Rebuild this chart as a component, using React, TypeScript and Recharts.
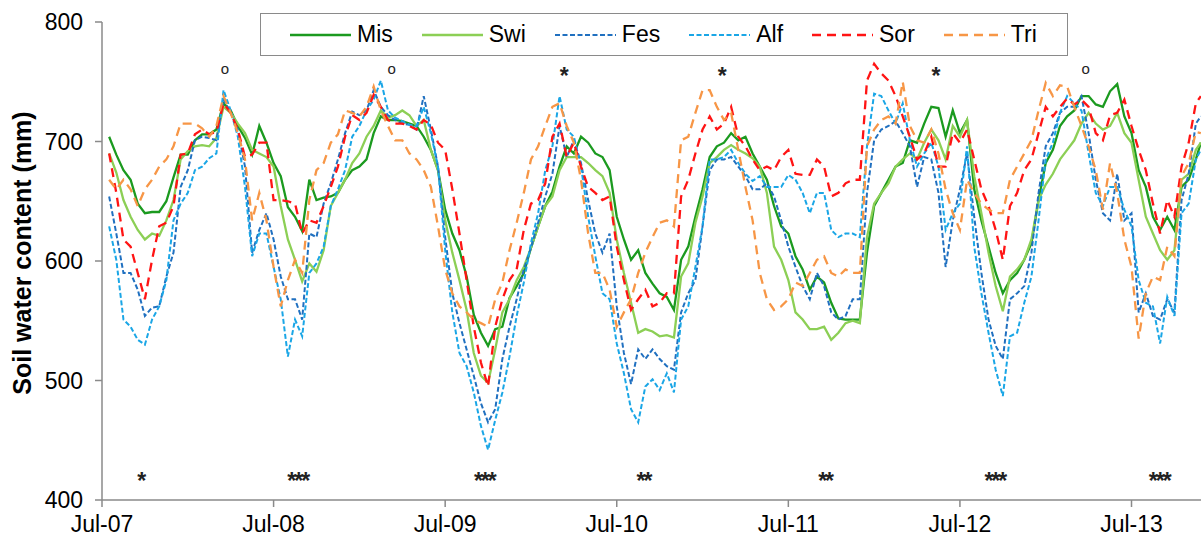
import { ComposedChart, Line, Scatter, XAxis, YAxis, Legend, Label } from 'recharts';

const FONT = '"Liberation Sans", Arial, sans-serif';

// half-month steps since 1 Jul 2007, last reading early Dec 2013
const months = Array.from({ length: 153 }, (_, i) => (i + 1) / 2).concat([76.85]);
const yearTicks = [0, 12, 24, 36, 48, 60, 72];
const yearLabels = ['Jul-07', 'Jul-08', 'Jul-09', 'Jul-10', 'Jul-11', 'Jul-12', 'Jul-13'];

const mis = [
  704, 689, 676, 668, 648, 640, 641, 641, 650, 670, 689, 689, 701, 706, 706, 710, 732, 726, 713, 703, 689, 713, 699, 682,
  671, 645, 637, 625, 668, 651, 653, 654, 657, 668, 676, 679, 685, 707, 721, 718, 718, 717, 715, 713, 704, 693, 676, 643,
  623, 609, 587, 555, 540, 529, 543, 545, 569, 579, 590, 611, 629, 646, 658, 679, 696, 690, 704, 699, 690, 687, 676, 637,
  618, 601, 609, 590, 581, 573, 570, 559, 601, 612, 637, 660, 687, 696, 699, 707, 701, 704, 690, 679, 668, 646, 629, 623,
  604, 593, 576, 587, 582, 565, 552, 551, 551, 551, 607, 646, 657, 668, 679, 682, 701, 699, 715, 729, 728, 704, 726, 707,
  718, 660, 634, 612, 590, 573, 584, 590, 601, 615, 651, 682, 693, 713, 721, 726, 738, 738, 731, 729, 742, 748, 721, 707,
  676, 662, 637, 626, 637, 626, 662, 668, 685, 699,
];
const swi = [
  690, 674, 651, 637, 626, 618, 623, 621, 634, 651, 685, 692, 696, 697, 696, 703, 729, 724, 715, 707, 693, 690, 687, 679,
  646, 618, 601, 583, 598, 591, 609, 646, 657, 668, 682, 690, 704, 713, 726, 720, 722, 726, 722, 713, 718, 693, 676, 634,
  607, 584, 559, 523, 504, 498, 526, 557, 568, 584, 595, 611, 629, 646, 654, 676, 687, 687, 687, 682, 676, 671, 657, 618,
  590, 565, 540, 543, 541, 537, 538, 536, 587, 598, 632, 654, 682, 687, 693, 697, 693, 690, 686, 679, 657, 612, 601, 584,
  557, 551, 543, 543, 545, 534, 540, 548, 550, 548, 620, 648, 657, 665, 679, 685, 690, 685, 699, 710, 701, 685, 713, 704,
  718, 671, 640, 607, 579, 558, 587, 593, 601, 618, 651, 664, 673, 685, 693, 701, 715, 724, 715, 710, 713, 724, 707, 699,
  668, 637, 623, 609, 601, 609, 668, 673, 693, 699,
];
const fes = [
  654, 623, 590, 590, 576, 554, 561, 562, 587, 607, 662, 676, 701, 704, 703, 701, 735, 724, 710, 679, 607, 626, 640, 618,
  587, 568, 568, 551, 623, 620, 648, 665, 685, 707, 725, 722, 726, 743, 729, 722, 718, 715, 714, 710, 738, 710, 679, 620,
  573, 548, 526, 504, 481, 465, 476, 518, 545, 568, 593, 611, 632, 654, 673, 713, 687, 701, 682, 651, 623, 607, 623, 562,
  523, 497, 526, 518, 526, 518, 512, 509, 557, 573, 584, 629, 676, 685, 685, 687, 679, 671, 660, 660, 665, 654, 634, 612,
  595, 579, 568, 590, 579, 557, 551, 554, 568, 568, 657, 701, 710, 713, 717, 707, 696, 662, 687, 685, 657, 595, 634, 660,
  690, 637, 590, 551, 529, 518, 568, 573, 579, 607, 657, 696, 707, 724, 729, 729, 738, 707, 668, 640, 634, 673, 634, 640,
  557, 573, 554, 551, 568, 557, 651, 673, 715, 721,
];
const alf = [
  629, 601, 551, 545, 534, 530, 551, 562, 584, 634, 648, 657, 676, 679, 686, 690, 743, 726, 704, 662, 604, 623, 623, 595,
  568, 520, 551, 537, 590, 598, 612, 646, 660, 676, 704, 713, 726, 735, 751, 726, 720, 717, 714, 713, 729, 707, 679, 609,
  557, 523, 512, 490, 462, 442, 467, 490, 520, 554, 582, 615, 640, 676, 696, 738, 710, 704, 679, 637, 604, 573, 568, 531,
  506, 476, 465, 495, 501, 492, 506, 490, 551, 562, 595, 629, 685, 685, 687, 693, 682, 673, 667, 671, 662, 662, 662, 672,
  668, 657, 640, 657, 657, 626, 620, 623, 623, 620, 696, 740, 738, 726, 715, 732, 701, 679, 690, 699, 679, 626, 640, 648,
  696, 612, 573, 540, 509, 487, 537, 540, 565, 587, 634, 685, 699, 724, 738, 732, 726, 690, 657, 646, 662, 662, 643, 629,
  584, 565, 562, 531, 570, 554, 640, 648, 685, 693,
];
const sor = [
  690, 657, 618, 612, 590, 568, 601, 629, 632, 646, 689, 690, 706, 710, 706, 708, 732, 724, 710, 687, 689, 699, 699, 651,
  651, 650, 648, 623, 634, 632, 646, 662, 679, 704, 722, 718, 724, 739, 729, 718, 715, 715, 713, 710, 718, 714, 699, 693,
  660, 623, 584, 545, 515, 495, 545, 568, 584, 593, 626, 648, 651, 665, 704, 715, 687, 699, 679, 662, 657, 651, 654, 612,
  584, 559, 568, 576, 562, 565, 573, 573, 654, 668, 690, 710, 721, 710, 715, 729, 704, 696, 685, 676, 679, 676, 687, 693,
  673, 672, 672, 685, 679, 654, 657, 665, 668, 668, 751, 765, 757, 751, 738, 721, 704, 685, 690, 704, 679, 679, 707, 699,
  710, 685, 660, 646, 626, 601, 646, 657, 676, 685, 707, 729, 721, 729, 736, 731, 735, 729, 707, 701, 722, 724, 735, 713,
  693, 676, 648, 623, 651, 637, 679, 699, 732, 738,
];
const tri = [
  668, 660, 668, 660, 646, 660, 668, 679, 685, 696, 715, 715, 715, 711, 704, 713, 738, 724, 707, 685, 634, 657, 634, 595,
  562, 584, 601, 590, 651, 676, 682, 699, 706, 726, 724, 721, 729, 746, 726, 713, 701, 701, 690, 685, 676, 662, 629, 593,
  573, 562, 557, 551, 548, 545, 568, 582, 609, 632, 657, 685, 696, 713, 729, 732, 713, 699, 668, 623, 590, 590, 576, 545,
  557, 568, 590, 607, 620, 632, 634, 629, 701, 704, 724, 743, 743, 729, 718, 724, 693, 662, 634, 590, 568, 559, 562, 568,
  582, 579, 590, 601, 604, 590, 587, 593, 590, 590, 696, 710, 718, 721, 715, 750, 713, 701, 699, 710, 690, 660, 640, 626,
  668, 657, 648, 643, 640, 640, 668, 679, 690, 701, 726, 749, 738, 747, 746, 729, 713, 696, 676, 643, 682, 657, 618, 595,
  535, 573, 587, 584, 612, 604, 671, 682, 708, 707,
];

// significance marks above the curves and along the bottom
const topMarkMonths = [8.6, 20.25, 32.25, 43.3, 58.25, 68.8];
const topMarkLabels = ['o', 'o', '*', '*', '*', 'o'];
const bottomMarkMonths = [2.7, 13.55, 26.6, 37.8, 50.5, 62.3, 73.8];
const bottomMarkLabels = ['*', '***', '***', '**', '**', '***', '***'];
const TOP_LEVEL = 760;
const BOTTOM_LEVEL = 421;

const SERIES = [
  { key: 'Mis', values: mis, color: '#1b9a1f', dash: undefined, width: 2.3 },
  { key: 'Swi', values: swi, color: '#8ccf55', dash: undefined, width: 2.3 },
  { key: 'Fes', values: fes, color: '#2070c0', dash: '5 2.5', width: 2 },
  { key: 'Alf', values: alf, color: '#1aa6e6', dash: '5 2.5', width: 2 },
  { key: 'Sor', values: sor, color: '#ff1414', dash: '9 6', width: 2.3 },
  { key: 'Tri', values: tri, color: '#f79646', dash: '9 6', width: 2.3 },
];

const rows = months.map((t, i) => {
  const row: Record<string, number> = { t };
  SERIES.forEach((s) => {
    row[s.key] = s.values[i];
  });
  return row;
});

const marks = [
  ...topMarkMonths.map((t, i) => ({ t, v: TOP_LEVEL, label: topMarkLabels[i] })),
  ...bottomMarkMonths.map((t, i) => ({ t, v: BOTTOM_LEVEL, label: bottomMarkLabels[i] })),
];

function SigMark(props: any) {
  const { cx, cy, payload } = props;
  if (cx == null || cy == null) return null;
  const star = payload.label.startsWith('*');
  const size = star ? 23 : 15;
  const n = payload.label.length;
  return (
    <text
      x={cx + (star ? n - 1 : 0)}
      y={cy + (star ? 0.62 : 0.27) * size}
      textAnchor="middle"
      fontSize={size}
      fontWeight={star ? 'bold' : 'normal'}
      fontFamily={FONT}
      letterSpacing={star ? -2 : 0}
      fill="#222"
    >
      {payload.label}
    </text>
  );
}

const renderLegend = () => (
  <div
    style={{
      boxSizing: 'border-box',
      width: 808,
      height: 43,
      border: '1.5px solid #8a8a8a',
      background: '#fff',
      display: 'flex',
      alignItems: 'center',
      paddingLeft: 29,
      fontFamily: FONT,
      fontSize: 23,
      color: '#000',
    }}
  >
    {SERIES.map((s) => (
      <div key={s.key} style={{ display: 'flex', alignItems: 'center', marginRight: 29 }}>
        <svg width={61} height={8}>
          <line x1={0} y1={4} x2={61} y2={4} stroke={s.color} strokeWidth={s.width} strokeDasharray={s.dash} />
        </svg>
        <span style={{ marginLeft: 6, lineHeight: 1 }}>{s.key}</span>
      </div>
    ))}
  </div>
);

export default function App() {
  return (
    <div style={{ position: 'absolute', left: 0, top: 0, background: '#fff' }}>
      <ComposedChart width={1201} height={539} data={rows} margin={{ top: 22, right: 0, bottom: 1, left: 0 }}>
        <XAxis
          dataKey="t"
          type="number"
          domain={[0, 76.86]}
          allowDataOverflow
          ticks={yearTicks}
          tickFormatter={(v) => yearLabels[yearTicks.indexOf(v)]}
          height={38}
          stroke="#8a8a8a"
          strokeWidth={1.5}
          tickSize={7}
          tickMargin={9}
          tick={{ fill: '#000', fontSize: 23, fontFamily: FONT }}
        />
        <YAxis
          type="number"
          domain={[400, 800]}
          ticks={[400, 500, 600, 700, 800]}
          width={102}
          stroke="#8a8a8a"
          strokeWidth={1.5}
          tickSize={7}
          tickMargin={12}
          tick={{ fill: '#000', fontSize: 23, fontFamily: FONT }}
        >
          <Label
            content={() => (
              <text
                x={22}
                y={253}
                transform="rotate(-90 22 253)"
                textAnchor="middle"
                dominantBaseline="central"
                fontSize={25}
                fontWeight="bold"
                fontFamily={FONT}
                fill="#000"
              >
                Soil water content (mm)
              </text>
            )}
          />
        </YAxis>
        <Legend
          content={renderLegend}
          layout="horizontal"
          verticalAlign="middle"
          align="center"
          wrapperStyle={{ top: 13, left: 260, width: 808, height: 43 }}
        />
        {SERIES.map((s) => (
          <Line
            key={s.key}
            dataKey={s.key}
            type="linear"
            stroke={s.color}
            strokeWidth={s.width}
            strokeDasharray={s.dash}
            dot={false}
            activeDot={false}
            isAnimationActive={false}
          />
        ))}
        <Scatter data={marks} dataKey="v" shape={<SigMark />} isAnimationActive={false} legendType="none" />
      </ComposedChart>
    </div>
  );
}
